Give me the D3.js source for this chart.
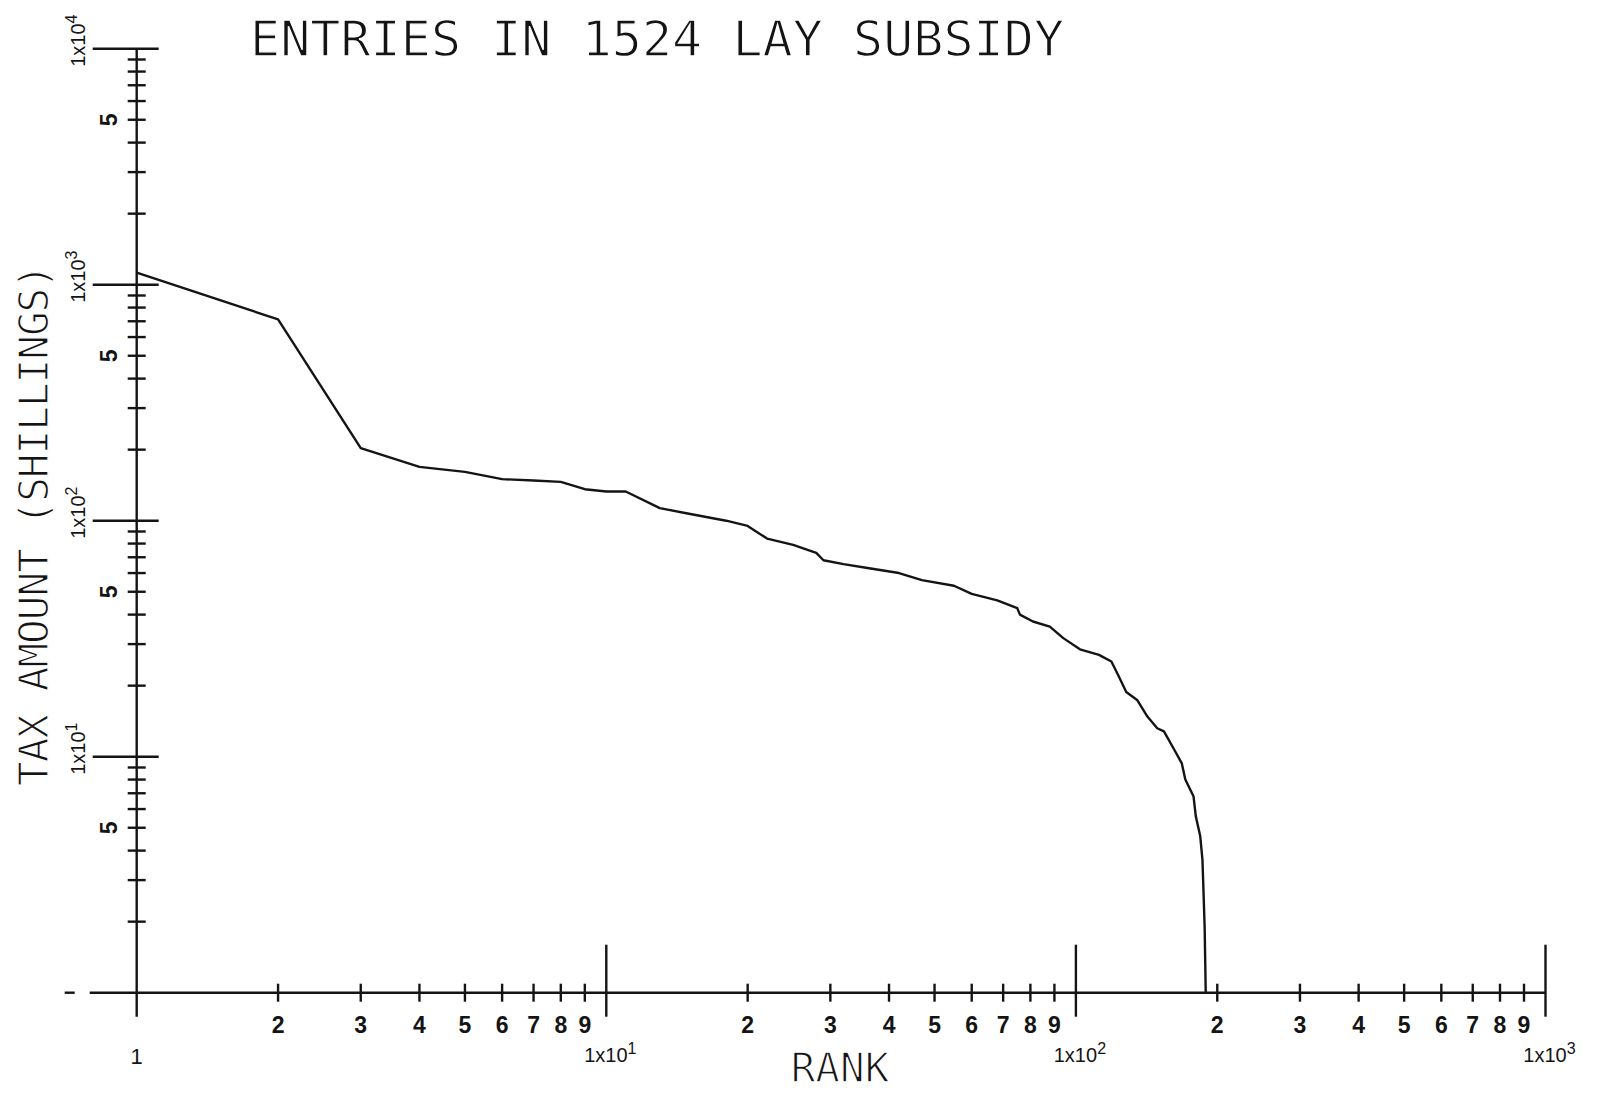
<!DOCTYPE html>
<html>
<head>
<meta charset="utf-8">
<script src="https://cdn.jsdelivr.net/npm/d3@7/dist/d3.min.js"></script>
<style>
  html, body { margin: 0; padding: 0; background: #ffffff; }
  svg { display: block; }
</style>
</head>
<body>
<svg id="chart" width="1600" height="1117"></svg>
<script>
// ---- data ----
const ranks   = [1, 2, 3, 4, 5, 6, 7, 8, 9, 10, 11, 13, 15, 18, 20, 22, 25, 28, 29, 32, 36, 42, 47, 55, 60, 68, 75, 76, 81, 88, 94, 102, 112, 119, 123, 128, 135, 142, 149, 154, 162, 168, 171, 178, 180, 184, 186, 187, 188, 189];
const amounts = [1125, 713, 203, 169, 161, 150, 148, 146, 136, 133, 133, 113, 107, 100, 95, 84, 79, 73, 68, 65.5, 63, 60, 56, 53, 49, 46, 42.6, 40, 37.4, 35.6, 31.8, 28.5, 27, 25.3, 22.2, 18.8, 17.4, 14.8, 13.2, 12.8, 10.7, 9.4, 8, 6.8, 5.6, 4.6, 3.65, 2.64, 1.9, 1];

const xMajorTicks = [10, 100, 1000];
const yMajorTicks = [10, 100, 1000, 10000];
const minorDigits = [2, 3, 4, 5, 6, 7, 8, 9];
const xDecades = [1, 10, 100];
const yDecades = [1, 10, 100, 1000];
const xMajorLabels = [{base: "1x10", exp: "1"}, {base: "1x10", exp: "2"}, {base: "1x10", exp: "3"}];
const yMajorLabels = [{base: "1x10", exp: "1"}, {base: "1x10", exp: "2"}, {base: "1x10", exp: "3"}, {base: "1x10", exp: "4"}];
const titleText = "ENTRIES IN 1524 LAY SUBSIDY";
const xTitle = "RANK";
const yTitle = "TAX AMOUNT (SHILLINGS)";

// ---- scales ----
const x = d3.scaleLog().domain([1, 1000]).range([136.7, 1545.5]);
const y = d3.scaleLog().domain([1, 10000]).range([992.7, 48.7]);

const svg = d3.select("#chart");
svg.append("rect").attr("width", 1600).attr("height", 1117).attr("fill", "#ffffff");

const ink = "#141414";
const numFont = "'Liberation Sans', Arial, sans-serif";
const plotFont = "'DejaVu Sans Mono', monospace";

const g = svg.append("g").attr("stroke", ink).attr("stroke-width", 2.4).attr("fill", "none");

const x0 = x(1), y0 = y(1);

// axes lines
g.append("line").attr("x1", x0).attr("x2", x0).attr("y1", y(10000)).attr("y2", y0 + 24);
g.append("line").attr("x1", x0 - 47).attr("x2", x(1000)).attr("y1", y0).attr("y2", y0);
g.append("line").attr("x1", x0 - 72).attr("x2", x0 - 62).attr("y1", y0).attr("y2", y0);

// minor ticks
const xMinor = xDecades.flatMap(d => minorDigits.map(m => m * d));
const yMinor = yDecades.flatMap(d => minorDigits.map(m => m * d));
g.selectAll(".xmin").data(xMinor).join("line")
  .attr("x1", d => x(d)).attr("x2", d => x(d)).attr("y1", y0 - 9).attr("y2", y0 + 9);
g.selectAll(".ymin").data(yMinor).join("line")
  .attr("y1", d => y(d)).attr("y2", d => y(d)).attr("x1", x0 - 9).attr("x2", x0 + 9);

// major ticks
g.selectAll(".xmaj").data(xMajorTicks).join("line")
  .attr("x1", d => x(d)).attr("x2", d => x(d)).attr("y1", y0 - 48).attr("y2", y0 + 24);
g.selectAll(".ymaj").data(yMajorTicks).join("line")
  .attr("y1", d => y(d)).attr("y2", d => y(d)).attr("x1", x0 - 44).attr("x2", x0 + 22);

// data curve
const line = d3.line().x((d, i) => x(ranks[i])).y(d => y(d));
svg.append("path").datum(amounts)
  .attr("d", line)
  .attr("fill", "none").attr("stroke", ink).attr("stroke-width", 2.4)
  .attr("stroke-linejoin", "round");

// x minor labels
const tl = svg.append("g").attr("fill", ink).attr("font-family", numFont).attr("font-weight", "bold");
tl.selectAll(".xl").data(xMinor).join("text")
  .attr("x", d => x(d)).attr("y", 1033)
  .attr("text-anchor", "middle").attr("font-size", 23)
  .text(d => String(Math.round(d / Math.pow(10, Math.floor(Math.log10(d) + 1e-9)))));

// "1" at origin
tl.append("text").attr("x", x(1)).attr("y", 1064).attr("text-anchor", "middle")
  .attr("font-size", 22).attr("font-weight", "normal").text("1");

// x major labels
xMajorLabels.forEach((lab, i) => {
  const t = tl.append("text").attr("x", x(xMajorTicks[i]) + 4).attr("y", 1062)
    .attr("text-anchor", "middle").attr("font-size", 20).attr("font-weight", "normal");
  t.append("tspan").text(lab.base);
  t.append("tspan").attr("dy", -8).attr("font-size", 16).text(lab.exp);
});

// y "5" labels
tl.selectAll(".y5").data(yDecades.map(d => 5 * d)).join("text")
  .attr("transform", d => `translate(${x0 - 20},${y(d)}) rotate(-90)`)
  .attr("text-anchor", "middle").attr("font-size", 23).text("5");

// y major labels
yMajorLabels.forEach((lab, i) => {
  const t = tl.append("text")
    .attr("transform", `translate(${x0 - 52},${y(yMajorTicks[i]) - 8}) rotate(-90)`)
    .attr("text-anchor", "middle").attr("font-size", 20).attr("font-weight", "normal");
  t.append("tspan").text(lab.base);
  t.append("tspan").attr("dy", -8).attr("font-size", 16).text(lab.exp);
});

// titles (plotter-like, thinned with a white outline)
const thin = sel => sel.attr("fill", ink).attr("stroke", "#ffffff").attr("stroke-width", 1.3)
  .attr("font-family", plotFont);

svg.append("text").call(thin)
  .attr("x", 250).attr("y", 56).attr("font-size", 50)
  .attr("textLength", 814).attr("lengthAdjust", "spacing")
  .text(titleText);

svg.append("text").call(thin)
  .attr("x", 840).attr("y", 1082).attr("text-anchor", "middle").attr("font-size", 41)
  .text(xTitle);

svg.append("text").call(thin)
  .attr("transform", `translate(48,525) rotate(-90)`)
  .attr("text-anchor", "middle").attr("font-size", 41)
  .attr("textLength", 522).attr("lengthAdjust", "spacing")
  .text(yTitle);
</script>
</body>
</html>
